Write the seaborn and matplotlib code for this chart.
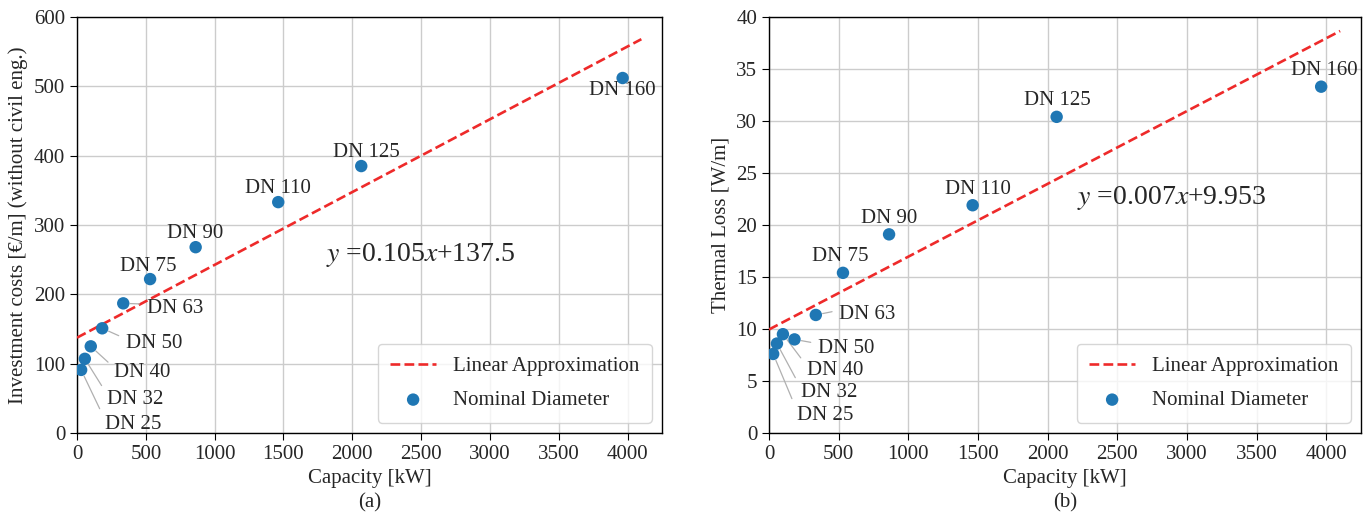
import matplotlib
matplotlib.use("Agg")
import matplotlib.pyplot as plt
import seaborn as sns
import numpy as np
import pandas as pd

# ---- data ----
labels = ["DN 25", "DN 32", "DN 40", "DN 50", "DN 63", "DN 75", "DN 90", "DN 110", "DN 125", "DN 160"]
capacity = [30, 57, 100, 183, 336, 531, 862, 1462, 2065, 3964]
invest_cost = [91, 107, 125, 151, 187, 222, 268, 333, 385, 512]
thermal_loss = [7.6, 8.6, 9.5, 9.0, 11.35, 15.4, 19.1, 21.9, 30.4, 33.3]
fit_a = (0.105, 137.5)
fit_b = (0.007, 9.953)
fit_x = [0, 4100]

sns.set_style("ticks")
plt.rcParams["font.family"] = ["Liberation Serif", "DejaVu Serif"]
plt.rcParams["mathtext.fontset"] = "stix"
plt.rcParams["font.size"] = 15

fig = plt.figure(figsize=(13.63, 5.14), dpi=100)
ax1 = fig.add_axes([77 / 1363, 81 / 514, 585 / 1363, 416 / 514])
ax2 = fig.add_axes([769 / 1363, 81 / 514, 592 / 1363, 416 / 514])

# label offsets (points)
offs_a = [(17, -39), (16, -29), (17, -19), (17, -11), (17, -4),
          (-1.5, 9), (-0.5, 9.5), (0, 9.5), (3.5, 9.5), (0, -9)]
offs_b = [(17, -44), (17, -35), (17, -26), (17, -6.5), (17, 0),
          (-2, 12), (0, 11.5), (3.5, 11.5), (0.7, 12), (2, 12)]


def draw(ax, yvals, fit, ylim, yticks, ylabel, caption, eq, eqpos, offs):
    fx = np.array(fit_x, dtype=float)
    fy = fit[0] * fx + fit[1]
    sns.lineplot(x=fx, y=fy, ax=ax, color="#ee2a2a", linestyle="--", linewidth=1.9,
                 label="Linear Approximation", zorder=3)
    sns.scatterplot(x=capacity, y=yvals, ax=ax, color="#1f77b4", s=80, edgecolor="none",
                    label="Nominal Diameter", zorder=4)
    for i, (lab, cx, cy) in enumerate(zip(labels, capacity, yvals)):
        dx, dy = offs[i]
        if i < 5:
            ax.annotate(lab, (cx, cy), xytext=(dx, dy), textcoords="offset points",
                        ha="left", va="center", fontsize=15,
                        arrowprops=dict(arrowstyle="-", color="#b0b0b0", lw=0.9,
                                        relpos=(0, 0.75), shrinkA=3, shrinkB=5))
        else:
            ax.annotate(lab, (cx, cy), xytext=(dx, dy), textcoords="offset points",
                        ha="center", va="center", fontsize=15)
    ax.text(eqpos[0], eqpos[1], eq, fontsize=20, ha="center", va="center")
    ax.set_xlim(0, 4250)
    ax.set_ylim(*ylim)
    ax.set_xticks(np.arange(0, 4001, 500))
    ax.set_yticks(yticks)
    ax.grid(True, color="#cccccc", linewidth=1.0)
    ax.set_axisbelow(True)
    for s in ax.spines.values():
        s.set_visible(True)
        s.set_color("black")
        s.set_linewidth(1.0)
    ax.tick_params(labelsize=15, direction="out", length=5, color="black")
    ax.set_xlabel("Capacity [kW]\n" + caption, fontsize=15, linespacing=1.35)
    ax.set_ylabel(ylabel, fontsize=15)
    ax.legend(loc="lower right", fontsize=15, frameon=True, borderpad=0.6,
              handlelength=2.2, labelspacing=0.7)


draw(ax1, invest_cost, fit_a, (0, 600), np.arange(0, 601, 100),
     "Investment costs [€/m] (without civil eng.)", "(a)",
     r"$y$ =0.105$x$+137.5", (2500, 257), offs_a)
draw(ax2, thermal_loss, fit_b, (0, 40), np.arange(0, 41, 5),
     "Thermal Loss [W/m]", "(b)",
     r"$y$ =0.007$x$+9.953", (2890, 22.6), offs_b)

fig.savefig("out.png", dpi=100)
